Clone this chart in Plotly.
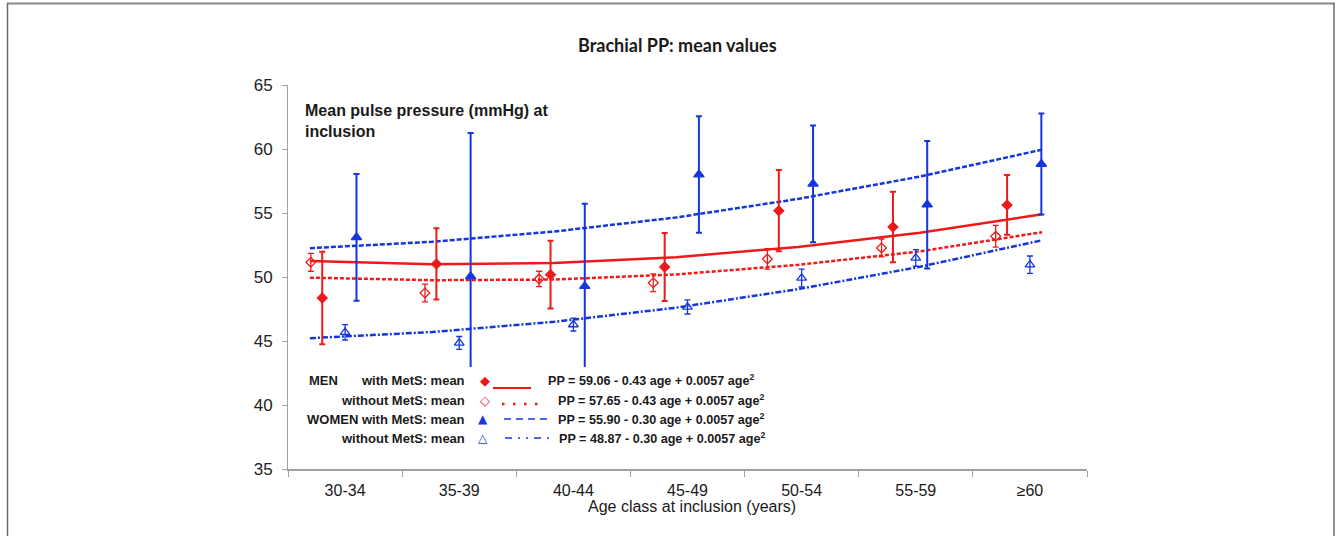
import plotly.graph_objects as go

# ---------------- data ----------------
age_classes = ["30-34", "35-39", "40-44", "45-49", "50-54", "55-59", "≥60"]
cat_idx = [0, 1, 2, 3, 4, 5, 6]

men_mets = [48.36, 51.02, 50.18, 50.78, 55.18, 53.91, 55.63]
men_mets_err = [3.62, 2.78, 2.65, 2.65, 3.17, 2.75, 2.33]
men_nomets = [51.15, 48.75, 49.85, 49.55, 51.41, 52.27, 53.18]
men_nomets_err = [0.7, 0.7, 0.6, 0.7, 0.8, 0.7, 0.85]
women_mets = [53.10, 50.05, 49.28, 58.00, 57.28, 55.65, 58.83]
women_mets_err = [4.95, 11.2, 6.45, 4.55, 4.56, 4.98, 3.94]
women_nomets = [45.68, 44.85, 46.28, 47.66, 49.92, 51.49, 50.96]
women_nomets_err = [0.6, 0.5, 0.5, 0.55, 0.7, 0.65, 0.68]

# fitted quadratic curves (values read at 7 points along the curve)
fit_x = [-0.308, 0.761, 1.830, 2.899, 3.968, 5.037, 6.106]
fit_men_mets = [51.25, 51.00, 51.10, 51.55, 52.35, 53.45, 54.90]
fit_men_nomets = [49.95, 49.75, 49.80, 50.20, 50.95, 52.00, 53.50]
fit_women_mets = [52.25, 52.75, 53.55, 54.65, 56.10, 57.85, 59.95]
fit_women_nomets = [45.22, 45.70, 46.50, 47.60, 49.05, 50.80, 52.87]

# within-class horizontal offsets of each series
off_men_nomets, off_men_mets, off_women_nomets, off_women_mets = -0.30, -0.20, 0.0, 0.10

RED = "#ee1a1a"
BLUE = "#1436dc"

# ---------------- layout helpers (pixel -> paper) ----------------
W, H = 1341, 536
ML, MR, MT, MB = 288, 254, 85, 67
PW, PH = W - ML - MR, H - MT - MB


def px(x):
    return (x - ML) / PW


def py(y):
    return (H - MB - y) / PH


fig = go.Figure()

# fitted curves
for ys, col, dash in [
    (fit_men_mets, RED, "solid"),
    (fit_men_nomets, RED, "4px,2px"),
    (fit_women_mets, BLUE, "5px,2px"),
    (fit_women_nomets, BLUE, "6px,2px,2px,2px"),
]:
    fig.add_trace(go.Scatter(x=fit_x, y=ys, mode="lines",
                             line=dict(color=col, width=2.5, dash=dash),
                             showlegend=False, hoverinfo="skip"))

# means with error bars
series = [
    (men_nomets, men_nomets_err, off_men_nomets, RED, "diamond-open", 7.5, 1.3),
    (men_mets, men_mets_err, off_men_mets, RED, "diamond", 7.5, 2),
    (women_nomets, women_nomets_err, off_women_nomets, BLUE, "triangle-up-open", 8.5, 1.3),
    (women_mets, women_mets_err, off_women_mets, BLUE, "triangle-up", 9, 2),
]
for ys, errs, off, col, sym, size, thick in series:
    fig.add_trace(go.Scatter(
        x=[c + off for c in cat_idx], y=ys, mode="markers",
        marker=dict(symbol=sym, size=size, color=col,
                    line=dict(color=col, width=1.3)),
        error_y=dict(type="data", array=errs, visible=True, color=col,
                     thickness=thick, width=3),
        showlegend=False))

shapes = []
# white legend box covering the plot
shapes.append(dict(type="rect", xref="paper", yref="paper", x0=px(296), x1=px(785),
                   y0=py(448), y1=py(367), fillcolor="white", line=dict(width=0), layer="above"))
# legend line samples
shapes.append(dict(type="line", xref="paper", yref="paper", x0=px(493), x1=px(531),
                   y0=py(388), y1=py(388), line=dict(color=RED, width=2)))
shapes.append(dict(type="line", xref="paper", yref="paper", x0=px(502), x1=px(543),
                   y0=py(404), y1=py(404), line=dict(color=RED, width=2.5, dash="2.5px,8.5px")))
shapes.append(dict(type="line", xref="paper", yref="paper", x0=px(504), x1=px(548),
                   y0=py(419), y1=py(419), line=dict(color=BLUE, width=1.5, dash="7px,5px")))
shapes.append(dict(type="line", xref="paper", yref="paper", x0=px(505), x1=px(551),
                   y0=py(438), y1=py(438), line=dict(color=BLUE, width=1.5,
                                                       dash="7px,6px,2px,6px,2px,6px")))
# outer frame
shapes.append(dict(type="line", xref="paper", yref="paper", x0=px(7), x1=px(1335),
                   y0=py(3.5), y1=py(3.5), line=dict(color="#888888", width=2)))
shapes.append(dict(type="line", xref="paper", yref="paper", x0=px(7.5), x1=px(7.5),
                   y0=py(3), y1=py(540), line=dict(color="#6a6a6a", width=1.5)))
shapes.append(dict(type="line", xref="paper", yref="paper", x0=px(1334), x1=px(1334),
                   y0=py(3), y1=py(540), line=dict(color="#6a6a6a", width=1.5)))

ann = []
TXT = "#1a1a1a"


def add_text(text, x, y, xanchor="left", size=13, color=TXT, family="Liberation Sans, Arial",
             yanchor="middle"):
    ann.append(dict(text=text, x=px(x), y=py(y), xref="paper", yref="paper",
                    xanchor=xanchor, yanchor=yanchor, showarrow=False,
                    font=dict(size=size, color=color, family=family)))


# title
add_text("<b>Brachial PP: mean values</b>", 677, 45, xanchor="center", size=18,
         family="Lato, Open Sans")
# inner heading
ann.append(dict(text="<b>Mean pulse pressure (mmHg) at<br>inclusion</b>", x=px(303), y=py(100),
                xref="paper", yref="paper", xanchor="left", yanchor="top", align="left",
                showarrow=False, font=dict(size=16, color=TXT, family="Liberation Sans, Arial")))
# x axis title
add_text("Age class at inclusion (years)", 692, 506, xanchor="center", size=16)

# legend text
rows = [380, 400, 419, 438]
add_text("<b>MEN</b>", 307, rows[0])
add_text("<b>with MetS: mean</b>", 467, rows[0], xanchor="right")
add_text("<b>without MetS: mean</b>", 467, rows[1], xanchor="right")
add_text("<b>WOMEN with MetS: mean</b>", 467, rows[2], xanchor="right")
add_text("<b>without MetS: mean</b>", 467, rows[3], xanchor="right")
add_text("◆", 485, rows[0], xanchor="center", size=13, color=RED, family="DejaVu Sans")
add_text("◇", 485, rows[1], xanchor="center", size=13, color=RED, family="DejaVu Sans")
add_text("▲", 483, rows[2], xanchor="center", size=12, color=BLUE, family="DejaVu Sans")
add_text("△", 483, rows[3], xanchor="center", size=12, color=BLUE, family="DejaVu Sans")
add_text("<b>PP = 59.06 - 0.43 age + 0.0057 age<sup>2</sup></b>", 546, rows[0], size=12.6)
add_text("<b>PP = 57.65 - 0.43 age + 0.0057 age<sup>2</sup></b>", 556, rows[1], size=12.6)
add_text("<b>PP = 55.90 - 0.30 age + 0.0057 age<sup>2</sup></b>", 556, rows[2], size=12.6)
add_text("<b>PP = 48.87 - 0.30 age + 0.0057 age<sup>2</sup></b>", 557, rows[3], size=12.6)

fig.update_layout(
    width=W, height=H,
    margin=dict(l=ML, r=MR, t=MT, b=MB),
    paper_bgcolor="white", plot_bgcolor="white",
    showlegend=False,
    shapes=shapes, annotations=ann,
    font=dict(family="Liberation Sans, Arial", color=TXT),
)
fig.update_xaxes(
    range=[-0.5, 6.5], tickmode="array", tickvals=cat_idx, ticktext=age_classes,
    ticks="", showgrid=False, zeroline=False, showline=True, linecolor="#a0a0a0", linewidth=1.5,
    tickfont=dict(size=16, color=TXT), ticklabelstandoff=6,
    minor=dict(tickmode="array", tickvals=[-0.5, 0.5, 1.5, 2.5, 3.5, 4.5, 5.5, 6.5],
               ticks="outside", ticklen=6, tickcolor="#a0a0a0", tickwidth=1, showgrid=False),
)
fig.update_yaxes(
    range=[35, 65], tickmode="linear", tick0=35, dtick=5,
    ticks="outside", ticklen=5, tickcolor="#a0a0a0", showgrid=False, zeroline=False,
    showline=True, linecolor="#a0a0a0", linewidth=1,
    tickfont=dict(size=17, color="#222222"), ticklabelstandoff=6,
)

fig.write_html("out.html", config={"displayModeBar": False},
               post_script="document.body.style.margin='0';document.body.style.overflow='hidden';")
